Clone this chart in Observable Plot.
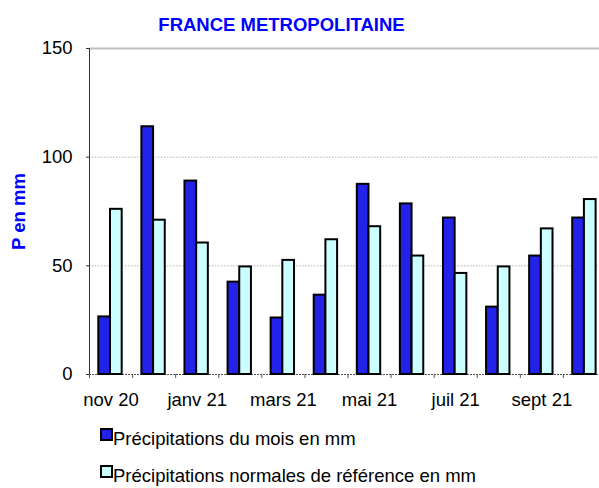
<!DOCTYPE html>
<html>
<head>
<meta charset="utf-8">
<script src="https://cdn.jsdelivr.net/npm/d3@7"></script>
<script src="https://cdn.jsdelivr.net/npm/@observablehq/plot@0.6"></script>
<style>
  html, body { margin: 0; padding: 0; background: #fff; overflow: hidden; }
  body { width: 599px; height: 488px; font-family: "Liberation Sans", Arial, sans-serif; }
  #title { height: 30px; box-sizing: border-box; padding-top: 15px; width: 563px; text-align: center;
           font-weight: bold; font-size: 18.5px; line-height: 20px; color: #0000ff; overflow: visible; white-space: nowrap; }
  #legend { position: relative; height: 74px; }
  .item { position: absolute; left: 100px; font-size: 18.5px; line-height: 20px; white-space: nowrap; }
  .sw { position: absolute; left: 0; width: 13px; height: 13px; box-sizing: border-box; border: 2px solid #000; }
  .lbl { position: absolute; left: 13px; top: 0; }
</style>
</head>
<body>
<div id="title"></div>
<div id="chart"></div>
<div id="legend"></div>
<script>
const title = "FRANCE METROPOLITAINE";
const yTitle = "P en mm";
const months = ["nov 20", "déc 20", "janv 21", "févr 21", "mars 21", "avr 21",
                "mai 21", "juin 21", "juil 21", "août 21", "sept 21", "oct 21"];
const precipMois = [26.5, 114, 89, 42.5, 26, 36.5, 87.5, 78.5, 72, 31, 54.5, 72];
const precipNormale = [76, 71, 60.5, 49.5, 52.5, 62, 68, 54.5, 46.5, 49.5, 67, 80.5];
const seriesNames = ["Précipitations du mois en mm", "Précipitations normales de référence en mm"];
const seriesColors = ["#2222e8", "#ccffff"];
const yTicks = [0, 50, 100, 150];
const yGrid = [50, 100];

document.getElementById("title").textContent = title;

const data = months.map((m, i) => ({month: m, i, mois: precipMois[i], normale: precipNormale[i]}));
const labelPositions = months.map((m, i) => i).filter(i => i % 2 === 0).map(i => i + 0.5);

const chart = Plot.plot({
  width: 599,
  height: 384,
  marginTop: 18,
  marginBottom: 40,
  marginLeft: 89,
  marginRight: -7,
  style: {fontFamily: "'Liberation Sans', Arial, sans-serif", fontSize: "18.5px", color: "#000", background: "#fff"},
  x: {type: "linear", domain: [0, months.length]},
  y: {domain: [0, 150]},
  marks: [
    Plot.ruleY(yGrid, {stroke: "#b4b4b4", strokeDasharray: "1.5,1.5"}),
    Plot.ruleY([150], {stroke: "#bdbdbd", strokeWidth: 2}),
    Plot.ruleY([0], {stroke: "#555", strokeDasharray: "2,1"}),
    Plot.ruleX([0], {y1: 0, y2: 150, stroke: "#333"}),
    Plot.rectY(data, {x1: "i", x2: d => d.i + 1, y: "mois", insetLeft: 9.3, insetRight: 22.1,
                      fill: seriesColors[0], stroke: "#000", strokeWidth: 2}),
    Plot.rectY(data, {x1: "i", x2: d => d.i + 1, y: "normale", insetLeft: 21, insetRight: 10.4,
                      fill: seriesColors[1], stroke: "#000", strokeWidth: 2}),
    Plot.axisY({ticks: yTicks, tickSize: 3, tickPadding: 14, label: null, stroke: "#333"}),
    Plot.axisX({ticks: d3.range(months.length + 1), tickSize: 4, tickFormat: () => "", label: null, stroke: "#555"}),
    Plot.axisX({ticks: labelPositions, tickSize: 0, tickPadding: 18, tickFormat: d => months[Math.floor(d)], label: null}),
    Plot.text([yTitle], {frameAnchor: "left", textAnchor: "middle", rotate: -90, dx: -70, fill: "#0000ff",
                         fontWeight: "bold", fontSize: 18.5})
  ]
});
document.getElementById("chart").appendChild(chart);

const legend = document.getElementById("legend");
const rowTops = [14.6, 52];
seriesNames.forEach((name, k) => {
  const item = document.createElement("div");
  item.className = "item";
  item.style.top = rowTops[k] + "px";
  const sw = document.createElement("div");
  sw.className = "sw";
  sw.style.background = seriesColors[k];
  sw.style.top = "-1px";
  const lbl = document.createElement("span");
  lbl.className = "lbl";
  lbl.textContent = name;
  item.appendChild(sw);
  item.appendChild(lbl);
  legend.appendChild(item);
});
</script>
</body>
</html>
